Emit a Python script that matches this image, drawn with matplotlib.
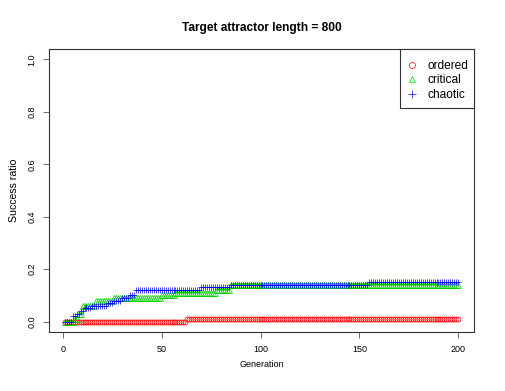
import numpy as np
import matplotlib
matplotlib.use("Agg")
import matplotlib.pyplot as plt
from matplotlib.patches import Rectangle

plt.rcParams['font.family'] = ['Liberation Sans', 'DejaVu Sans']

# success ratio per generation, stored as (value, run length) steps
generations = np.arange(1, 201)

ordered_vals = [0.0, 0.01]
ordered_runs = [62, 138]

critical_vals = [0.0, 0.01, 0.03, 0.06, 0.08, 0.09, 0.10, 0.11, 0.12, 0.14]
critical_runs = [5, 2, 2, 7, 9, 24, 7, 21, 7, 116]

chaotic_vals = [0.0, 0.02, 0.03, 0.04, 0.05, 0.06, 0.07, 0.08, 0.09, 0.10, 0.12, 0.13, 0.14, 0.15]
chaotic_runs = [4, 2, 2, 2, 4, 8, 3, 4, 4, 3, 33, 15, 70, 46]

ordered = np.repeat(ordered_vals, ordered_runs)
critical = np.repeat(critical_vals, critical_runs)
chaotic = np.repeat(chaotic_vals, chaotic_runs)

W, H = 506, 391
fig = plt.figure(figsize=(W / 100, H / 100), dpi=100)
ax = fig.add_axes([49 / W, 1 - 332 / H, 425 / W, 283 / H])

ms = 3.6
ax.plot(generations, ordered, linestyle='none', marker='o', ms=ms, mfc='none',
        mec='#FF0000', mew=0.5, label='ordered')
ax.plot(generations, critical, linestyle='none', marker='^', ms=ms + 0.4, mfc='none',
        mec='#00CD00', mew=0.5, label='critical')
ax.plot(generations, chaotic, linestyle='none', marker='+', ms=ms + 1.4,
        mec='#0000FF', mew=0.5, label='chaotic')

ax.set_xlim(1 - 0.04 * 199, 200 + 0.04 * 199)
ax.set_ylim(-0.04, 1.04)
ax.set_xticks([0, 50, 100, 150, 200])
ax.set_yticks([0.0, 0.2, 0.4, 0.6, 0.8, 1.0])
ax.set_yticklabels(['0.0', '0.2', '0.4', '0.6', '0.8', '1.0'], rotation=90, va='center')
ax.tick_params(direction='out', length=4, width=0.6, labelsize=6.5, pad=5, color='#555555')
for s in ax.spines.values():
    s.set_linewidth(0.8)
    s.set_color('#333333')

ax.set_title('Target attractor length = 800', fontsize=8.6, fontweight='bold', pad=13)
ax.set_xlabel('Generation', fontsize=6.5, labelpad=5)
ax.set_ylabel('Success ratio', fontsize=7.6, labelpad=6)

# legend box like R's legend(): drawn frame plus frameless entries
box = Rectangle((400 / W, 1 - 108 / H), 74 / W, 59 / H, transform=fig.transFigure,
                facecolor='white', edgecolor='#333333', lw=0.8, zorder=5, clip_on=False)
ax.add_patch(box)
leg = ax.legend(loc='upper left', bbox_to_anchor=(406 / W, 1 - 60 / H),
                bbox_transform=fig.transFigure, borderaxespad=0, borderpad=0,
                fontsize=8.6, frameon=False, handlelength=1.0, handletextpad=0.8,
                labelspacing=0.2, markerscale=1.2)
leg.set_zorder(6)

fig.savefig('out.png', dpi=100)
